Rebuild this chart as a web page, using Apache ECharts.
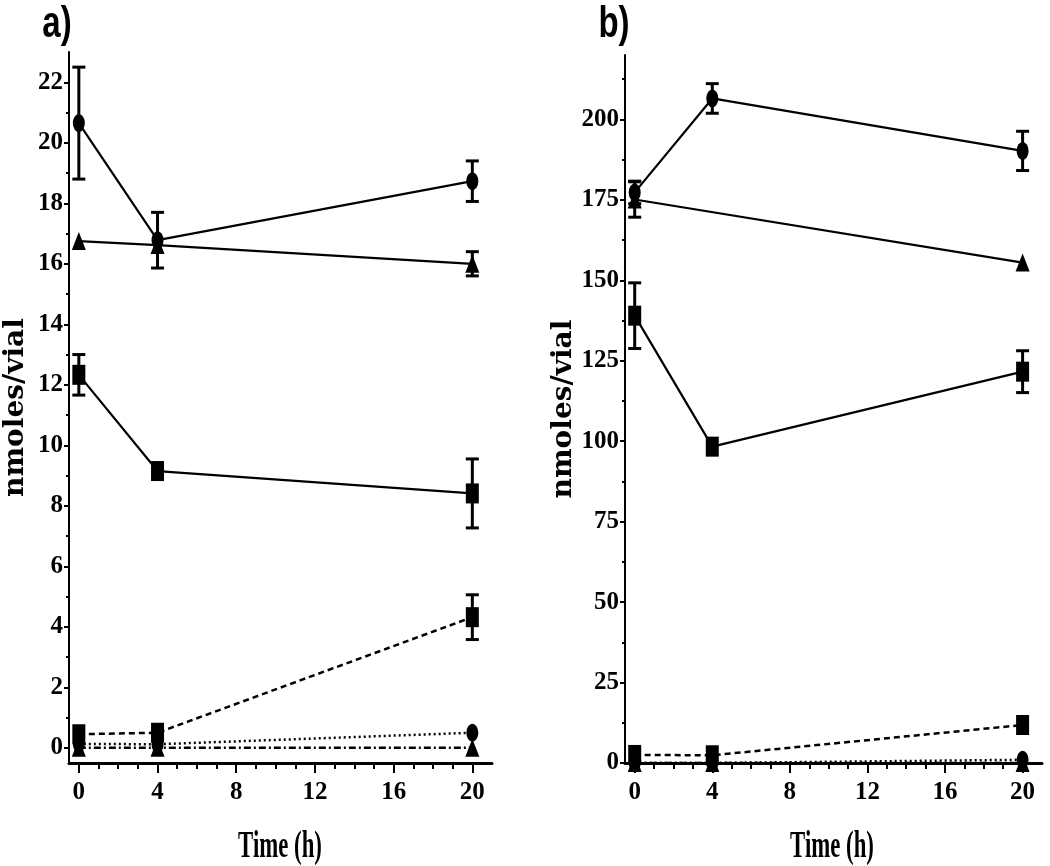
<!DOCTYPE html>
<html>
<head>
<meta charset="utf-8">
<script src="https://cdn.jsdelivr.net/npm/echarts@6/dist/echarts.min.js"></script>
<style>
html,body{margin:0;padding:0;background:#fff;}
#chart{width:1050px;height:866px;}
</style>
</head>
<body>
<div id="chart"></div>
<script>
// ---- data ----
const timePoints = [0, 4, 20];
const xTickLabels = [0, 4, 8, 12, 16, 20];
const xMinorTicks = [0,1,2,3,4,5,6,7,8,9,10,11,12,13,14,15,16,17,18,19,20];

// Panel a
const aYTickLabels = [0, 2, 4, 6, 8, 10, 12, 14, 16, 18, 20, 22];
const aYMinorTicks = [1, 3, 5, 7, 9, 11, 13, 15, 17, 19, 21];
const aCircleSolid = [20.65, 16.78, 18.73];
const aCircleSolidErr = [1.85, 0.92, 0.67];
const aTriangleSolid = [16.75, 16.62, 16.0];
const aTriangleSolidErr = [0, 0, 0.4];
const aSquareSolid = [12.33, 9.15, 8.41];
const aSquareSolidErr = [0.67, 0, 1.14];
const aSquareDashed = [0.45, 0.5, 4.32];
const aSquareDashedErr = [0, 0, 0.74];
const aCircleDotted = [0.13, 0.12, 0.5];
const aTriangleDashDot = [0, 0, 0];

// Panel b
const bYTickLabels = [0, 25, 50, 75, 100, 125, 150, 175, 200];
const bYMinorTicks = [12.5, 37.5, 62.5, 87.5, 112.5, 137.5, 162.5, 187.5, 212.5];
const bCircleSolid = [177.3, 206.5, 190.2];
const bCircleSolidErr = [3.5, 4.6, 6.1];
const bTriangleSolid = [175.1, null, 155.5];
const bTriangleSolidErr = [5.5, 0, 0];
const bSquareSolid = [139.0, 98.3, 121.6];
const bSquareSolidErr = [10.2, 0, 6.5];
const bSquareDashed = [2.5, 2.4, 11.8];
const bCircleDotted = [0, 0, 1];
const bTriangleDashDot = [0, 0, 0];

// ---- helpers ----
const BLACK = '#000';
const tickFont = {fontFamily: 'Liberation Serif', fontWeight: 'bold', fontSize: 25, color: BLACK};
function pts(vals){ return timePoints.map((t,i)=>[t, vals[i]]); }
function errPts(vals, errs){ return timePoints.map((t,i)=>[t, vals[i], errs[i]]).filter(d=>d[1]!=null && d[2]>0); }

const SYM = {
  circle: {symbol:'circle', symbolSize:[12,18]},
  square: {symbol:'rect', symbolSize:[13,20]},
  triangle: {symbol:'triangle', symbolSize:[14,18]}
};
function lineSeries(g, vals, shape, lineType, width){
  return Object.assign({
    type:'line', xAxisIndex: g*2, yAxisIndex: g*2, data: pts(vals),
    connectNulls: true, showAllSymbol: true, animation:false,
    itemStyle:{color:BLACK, opacity:1},
    lineStyle:{color:BLACK, width: width || 2, type: lineType || 'solid'},
    z: 3
  }, SYM[shape]);
}
function errSeries(g, vals, errs){
  return {
    type:'custom', xAxisIndex:g*2, yAxisIndex:g*2, data: errPts(vals, errs), animation:false, z:4,
    renderItem: function(params, api){
      const x = api.value(0), y = api.value(1), e = api.value(2);
      const top = api.coord([x, y+e]);
      const bot = api.coord([x, y-e]);
      const hw = 6.5;
      const st = {stroke: BLACK, lineWidth: 3};
      return {type:'group', children:[
        {type:'line', shape:{x1:top[0], y1:top[1], x2:bot[0], y2:bot[1]}, style:st},
        {type:'line', shape:{x1:top[0]-hw, y1:top[1], x2:top[0]+hw, y2:top[1]}, style:st},
        {type:'line', shape:{x1:bot[0]-hw, y1:bot[1], x2:bot[0]+hw, y2:bot[1]}, style:st}
      ]};
    }
  };
}
function xAxes(g){
  return [
    {type:'value', gridIndex:g, position:'bottom', min:-0.5, max:21,
     axisLine:{show:true, onZero:false, lineStyle:{color:BLACK, width:3}},
     axisTick:{show:true, customValues: xTickLabels, length:10, lineStyle:{color:BLACK, width:2}},
     axisLabel:Object.assign({show:true, customValues: xTickLabels, margin:17}, tickFont),
     splitLine:{show:false}},
    {type:'value', gridIndex:g, position:'bottom', min:-0.5, max:21,
     axisLine:{show:false, onZero:false},
     axisTick:{show:true, customValues: xMinorTicks, length:6, lineStyle:{color:BLACK, width:2}},
     axisLabel:{show:false}, splitLine:{show:false}}
  ];
}
function yAxes(g, min, max, labels, minor, nameGap){
  return [
    {type:'value', gridIndex:g, position:'left', min:min, max:max,
     name:'nmoles/vial', nameLocation:'middle', nameGap:nameGap,
     nameTextStyle:{fontFamily:'DejaVu Serif', fontWeight:'bold', fontSize:28, color:BLACK},
     axisLine:{show:true, onZero:false, lineStyle:{color:BLACK, width:2}},
     axisTick:{show:true, customValues: labels, length:5, lineStyle:{color:BLACK, width:2}},
     axisLabel:Object.assign({show:true, customValues: labels, margin:6}, tickFont),
     splitLine:{show:false}},
    {type:'value', gridIndex:g, position:'left', min:min, max:max,
     axisLine:{show:false, onZero:false},
     axisTick:{show:true, customValues: minor, length:3, lineStyle:{color:BLACK, width:2}},
     axisLabel:{show:false}, splitLine:{show:false}}
  ];
}

const option = {
  backgroundColor:'#fff',
  animation:false,
  grid:[
    {left:69, top:52, width:423, height:711},
    {left:625, top:55, width:417, height:708}
  ],
  xAxis: xAxes(0).concat(xAxes(1)),
  yAxis: yAxes(0, -0.5, 23, aYTickLabels, aYMinorTicks, 39).concat(yAxes(1, 0, 220, bYTickLabels, bYMinorTicks, 43)),
  graphic:[
    {type:'text', x:57, y:25, scaleX:0.75, style:{text:'a)', font:'900 44px "Liberation Sans"', fill:BLACK, textAlign:'center', textVerticalAlign:'middle'}},
    {type:'text', x:614, y:25, scaleX:0.75, style:{text:'b)', font:'900 44px "Liberation Sans"', fill:BLACK, textAlign:'center', textVerticalAlign:'middle'}},
    {type:'text', x:280, y:847, scaleX:0.6, style:{text:'Time (h)', font:'bold 38px "Liberation Serif"', fill:BLACK, textAlign:'center', textVerticalAlign:'middle'}},
    {type:'text', x:832, y:847, scaleX:0.6, style:{text:'Time (h)', font:'bold 38px "Liberation Serif"', fill:BLACK, textAlign:'center', textVerticalAlign:'middle'}}
  ],
  series:[
    // panel a
    lineSeries(0, aTriangleDashDot, 'triangle', [7,3,2,3], 2.5),
    lineSeries(0, aCircleDotted, 'circle', [2,3], 2.5),
    lineSeries(0, aSquareDashed, 'square', [6,4], 2.5),
    lineSeries(0, aTriangleSolid, 'triangle', 'solid', 2.2),
    lineSeries(0, aSquareSolid, 'square', 'solid', 2.2),
    lineSeries(0, aCircleSolid, 'circle', 'solid', 2.2),
    errSeries(0, aCircleSolid, aCircleSolidErr),
    errSeries(0, aTriangleSolid, aTriangleSolidErr),
    errSeries(0, aSquareSolid, aSquareSolidErr),
    errSeries(0, aSquareDashed, aSquareDashedErr),
    // panel b
    lineSeries(1, bTriangleDashDot, 'triangle', [7,3,2,3], 2.5),
    lineSeries(1, bCircleDotted, 'circle', [2,3], 2.5),
    lineSeries(1, bSquareDashed, 'square', [6,4], 2.5),
    lineSeries(1, bTriangleSolid, 'triangle', 'solid', 2.2),
    lineSeries(1, bSquareSolid, 'square', 'solid', 2.2),
    lineSeries(1, bCircleSolid, 'circle', 'solid', 2.2),
    errSeries(1, bCircleSolid, bCircleSolidErr),
    errSeries(1, bTriangleSolid, bTriangleSolidErr),
    errSeries(1, bSquareSolid, bSquareSolidErr)
  ]
};
const chart = echarts.init(document.getElementById('chart'), null, {renderer:'canvas'});
chart.setOption(option);
</script>
</body>
</html>
